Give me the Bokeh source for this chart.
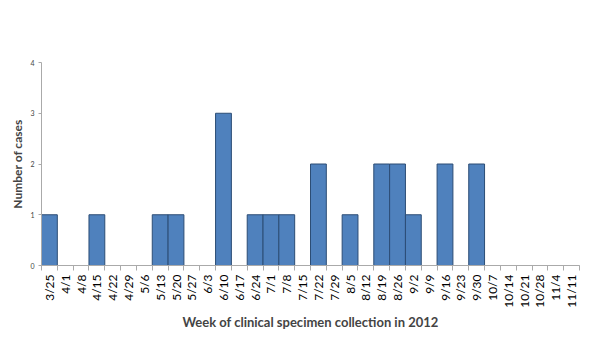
from math import pi
import numpy as np
from bokeh.plotting import figure
from bokeh.models import ColumnDataSource, Range1d, FixedTicker
from bokeh.embed import file_html
from bokeh.resources import INLINE

weeks = ["3/25", "4/1", "4/8", "4/15", "4/22", "4/29", "5/6", "5/13", "5/20", "5/27",
         "6/3", "6/10", "6/17", "6/24", "7/1", "7/8", "7/15", "7/22", "7/29", "8/5",
         "8/12", "8/19", "8/26", "9/2", "9/9", "9/16", "9/23", "9/30", "10/7", "10/14",
         "10/21", "10/28", "11/4", "11/11"]
cases = [1, 0, 0, 1, 0, 0, 0, 1, 1, 0,
         0, 3, 0, 1, 1, 1, 0, 2, 0, 1,
         0, 2, 2, 1, 0, 2, 0, 2, 0, 0,
         0, 0, 0, 0]
y_ticks = [0, 1, 2, 3, 4]

n = len(weeks)
centers = [i + 0.5 for i in range(n)]
src = ColumnDataSource(dict(x=centers, top=cases, week=weeks))

p = figure(width=584, height=339, output_backend="svg", toolbar_location=None,
           x_range=Range1d(0, n), y_range=Range1d(0, 4),
           min_border_left=41, min_border_right=5, min_border_top=62, min_border_bottom=74)
p.outline_line_color = None
p.xgrid.grid_line_color = None
p.ygrid.grid_line_color = None
p.background_fill_color = "white"
p.border_fill_color = "white"

p.vbar(x="x", top="top", width=1.0, source=src, fill_color="#4F81BD",
       line_color="#2C4D75", line_width=1)

font = "Lato"
xa = p.xaxis[0]
xa.ticker = FixedTicker(ticks=centers, minor_ticks=list(range(n + 1)))
xa.major_label_overrides = {c: w for c, w in zip(centers, weeks)}
xa.major_label_orientation = pi / 2
xa.major_label_text_font = font
xa.major_label_text_font_size = "12px"
xa.major_label_text_color = "#000000"
xa.major_tick_line_color = None
xa.minor_tick_line_color = "#AAAAAA"
xa.minor_tick_out = 5
xa.minor_tick_in = 0
xa.axis_line_color = "#AAAAAA"
xa.axis_label = "Week of clinical specimen collection in 2012"
xa.axis_label_text_font = font
xa.axis_label_text_font_style = "bold"
xa.axis_label_text_font_size = "13px"
xa.axis_label_standoff = 3
xa.major_label_standoff = 3

ya = p.yaxis[0]
ya.ticker = FixedTicker(ticks=y_ticks, minor_ticks=[])
ya.major_label_text_font = font
ya.major_label_text_font_size = "7px"
ya.major_label_text_color = "#444444"
ya.major_tick_line_color = "#AAAAAA"
ya.major_tick_out = 3
ya.major_tick_in = 0
ya.axis_line_color = "#AAAAAA"
ya.axis_label = "Number of cases"
ya.axis_label_text_font = font
ya.axis_label_text_font_style = "bold"
ya.axis_label_text_font_size = "12px"
ya.axis_label_standoff = 2
ya.major_label_standoff = 4

open("out.html", "w").write(file_html(p, INLINE))
